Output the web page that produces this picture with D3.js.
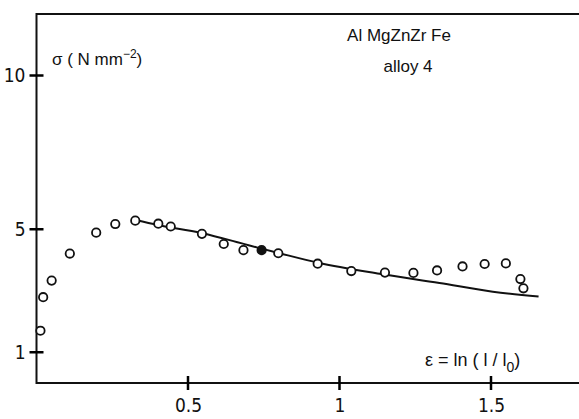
<!DOCTYPE html>
<html>
  <head>
    <title>AlMgZnZr Fe alloy 4</title>
    <style>
      body { margin: 0; background: #fff; }
      text { fill: #111; }
      .tick text { font-family: "Liberation Sans Narrow", "DejaVu Sans Condensed", "Liberation Sans", sans-serif; font-size: 19px; }
      .lbl { font-family: "Liberation Sans", "DejaVu Sans", sans-serif; }
    </style>
    <script src="https://d3js.org/d3.v7.min.js"></script>
  </head>
  <body>
    <div id="chart"></div>
    <script type="text/javascript">
      // strain values of the measured points
      var strain = [0.013, 0.022, 0.050, 0.110, 0.197, 0.260, 0.326, 0.402, 0.443, 0.546,
                    0.618, 0.683, 0.743, 0.798, 0.928, 1.039, 1.150, 1.244, 1.322, 1.406,
                    1.479, 1.549, 1.597, 1.607];
      // flow stress of the measured points, N/mm2
      var stress = [1.70, 2.79, 3.33, 4.21, 4.89, 5.17, 5.28, 5.18, 5.09, 4.85,
                    4.52, 4.32, 4.32, 4.22, 3.88, 3.64, 3.59, 3.58, 3.66, 3.79,
                    3.87, 3.89, 3.38, 3.08];
      // fitted curve
      var fitStrain = [0.327, 0.40, 0.544, 0.70, 0.802, 0.934, 1.132, 1.33, 1.506, 1.657];
      var fitStress = [5.30, 5.14, 4.88, 4.48, 4.22, 3.90, 3.55, 3.25, 2.97, 2.81];
      var xTicks = [0.5, 1, 1.5];
      var xTickLabels = ["0.5", "1", "1.5"];
      var yTicks = [1, 5, 10];

      var width = 579, height = 419;
      var x = d3.scaleLinear().domain([0, 1.8]).range([36.5, 36.5 + 1.8 * 303]);
      var y = d3.scaleLinear().domain([0, 12]).range([383, 14]);

      var svg = d3.select("#chart").append("svg")
        .attr("width", width)
        .attr("height", height);

      // frame: left, top, bottom
      svg.append("path")
        .attr("d", "M" + width + "," + y(12) + "H" + x(0) + "V" + y(0) + "H" + width)
        .attr("fill", "none")
        .attr("stroke", "#111")
        .attr("stroke-width", 2);

      var yAxis = svg.append("g")
        .attr("transform", "translate(" + x(0) + ",0)")
        .call(d3.axisLeft(y).tickValues(yTicks).tickSize(0).tickPadding(11));
      yAxis.select(".domain").remove();

      var xAxis = svg.append("g")
        .attr("transform", "translate(0," + y(0) + ")")
        .call(d3.axisBottom(x).tickValues(xTicks)
          .tickFormat(function(d, i) { return xTickLabels[i]; })
          .tickSize(0).tickPadding(14));
      xAxis.select(".domain").remove();
      xAxis.selectAll(".tick text").attr("dy", "0.8em");

      // tick marks crossing the axes
      svg.append("path")
        .attr("d", yTicks.map(function(d) {
          return "M" + (x(0) - 7) + "," + y(d) + "H" + (x(0) + 7);
        }).join("") + xTicks.map(function(d) {
          return "M" + x(d) + "," + (y(0) - 7) + "V" + (y(0) + 7);
        }).join(""))
        .attr("fill", "none")
        .attr("stroke", "#000")
        .attr("stroke-width", 2.5);

      // fitted line
      var line = d3.line()
        .x(function(d, i) { return x(fitStrain[i]); })
        .y(function(d) { return y(d); })
        .curve(d3.curveMonotoneX);
      svg.append("path")
        .datum(fitStress)
        .attr("d", line)
        .attr("fill", "none")
        .attr("stroke", "#111")
        .attr("stroke-width", 2);

      // measured points
      svg.selectAll(".pt")
        .data(stress)
        .enter()
        .append("circle")
        .attr("class", "pt")
        .attr("cx", function(d, i) { return x(strain[i]); })
        .attr("cy", function(d) { return y(d); })
        .attr("r", 4.2)
        .attr("fill", function(d, i) { return i === 12 ? "#111" : "#fff"; })
        .attr("stroke", "#111")
        .attr("stroke-width", 1.8);

      // labels
      var sl = svg.append("text").attr("class", "lbl")
        .attr("x", 52).attr("y", 65).style("font-size", "17px");
      sl.append("tspan").text("\u03c3 ( N mm");
      sl.append("tspan").attr("dy", -7).style("font-size", "12px").text("\u22122");
      sl.append("tspan").attr("dy", 7).text(")");

      svg.append("text").attr("class", "lbl")
        .attr("x", 399).attr("y", 41).attr("text-anchor", "middle")
        .style("font-size", "17px").text("Al MgZnZr Fe");
      svg.append("text").attr("class", "lbl")
        .attr("x", 408).attr("y", 72).attr("text-anchor", "middle")
        .style("font-size", "17px").text("alloy 4");

      var el = svg.append("text").attr("class", "lbl")
        .attr("x", 425).attr("y", 366).style("font-size", "18px");
      el.append("tspan").text("\u03b5 = ln ( l / l");
      el.append("tspan").attr("dy", 6).style("font-size", "14px").text("0");
      el.append("tspan").attr("dy", -6).text(")");
    </script>
  </body>
</html>
